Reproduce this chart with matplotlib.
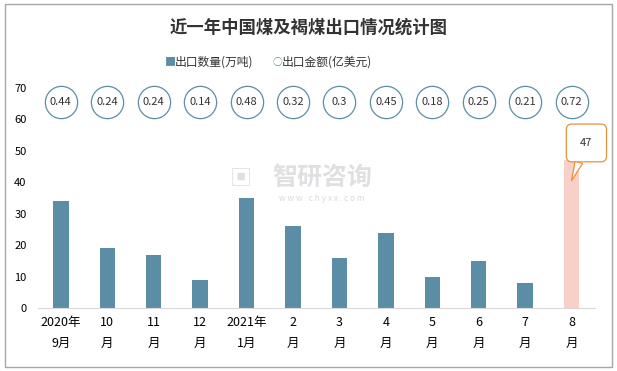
import numpy as np
import matplotlib.pyplot as plt
from matplotlib.patches import Rectangle

plt.rcParams['font.family'] = ['Noto Sans CJK SC', 'DejaVu Sans']

# data
months = ['2020年\n9月', '10\n月', '11\n月', '12\n月', '2021年\n1月', '2\n月',
          '3\n月', '4\n月', '5\n月', '6\n月', '7\n月', '8\n月']
volume = [34, 19, 17, 9, 35, 26, 16, 24, 10, 15, 8, 47]          # 万吨
amount = [0.44, 0.24, 0.24, 0.14, 0.48, 0.32, 0.3, 0.45, 0.18, 0.25, 0.21, 0.72]  # 亿美元

bar_color = '#5b8ea6'
last_color = '#f8d0c8'
circle_edge = '#5b8ea6'
orange = '#e8923a'

fig = plt.figure(figsize=(6.17, 3.71), dpi=100)
ax = fig.add_axes([0.061, 0.17, 0.903, 0.593])

x = np.arange(len(months))
colors = [bar_color] * (len(x) - 1) + [last_color]
ax.bar(x, volume, width=0.33, color=colors, zorder=2)

# amount labels in circles along the top
ax.scatter(x, [65.5] * len(x), s=540, facecolor='white', edgecolor=circle_edge,
           linewidth=0.9, zorder=3, clip_on=False)
for xi, a in zip(x, amount):
    ax.text(xi, 65.5, str(a), ha='center', va='center', fontsize=8, color='#333333', zorder=4)

# callout for the last bar
ax.annotate(str(volume[-1]), xy=(x[-1], volume[-1] - 6.5), xytext=(x[-1] + 0.32, 52.5),
            ha='center', va='center', fontsize=8, color='#333333',
            bbox=dict(boxstyle='round,pad=1.25,rounding_size=0.5', fc='white', ec=orange, lw=0.9),
            arrowprops=dict(arrowstyle='wedge,tail_width=0.7', fc='white', ec=orange, lw=0.9,
                            shrinkA=0, shrinkB=0),
            annotation_clip=False, zorder=5)

ax.set_xlim(-0.5, 11.5)
ax.set_ylim(0, 70)
ax.set_yticks(range(0, 71, 10))
ax.set_xticks(x)
ax.set_xticklabels(months, fontsize=9, linespacing=1.75)
ax.tick_params(axis='y', labelsize=8, length=0, pad=8)
ax.tick_params(axis='x', length=0, pad=6)
for s in ['top', 'right', 'left']:
    ax.spines[s].set_visible(False)
ax.spines['bottom'].set_color('#d9d9d9')

# legend
fig.text(0.268, 0.833, '■', color=bar_color, fontsize=8, ha='left', va='center')
fig.text(0.284, 0.833, '出口数量(万吨)', fontsize=8.5, ha='left', va='center', color='#333333')
fig.text(0.442, 0.833, '○', color=circle_edge, fontsize=7, ha='left', va='center')
fig.text(0.457, 0.833, '出口金额(亿美元)', fontsize=8.5, ha='left', va='center', color='#333333')

fig.text(0.5, 0.925, '近一年中国煤及褐煤出口情况统计图', fontsize=12.5, fontweight='bold',
         ha='center', va='center', color='#333333')

# watermark
fig.text(0.522, 0.52, '智研咨询', fontsize=18, color='#c8ccd0', alpha=0.6,
         ha='center', va='center', fontweight='bold')
fig.text(0.522, 0.466, 'w w w . c h y x x . c o m', fontsize=6, color='#c8ccd0', alpha=0.7,
         ha='center', va='center')
fig.text(0.39, 0.52, '▣', fontsize=16, color='#c8ccd0', alpha=0.6, ha='center', va='center')

fig.add_artist(Rectangle((0.008, 0.012), 0.984, 0.976, transform=fig.transFigure,
                         fill=False, ec='#a6a6a6', lw=1))

plt.savefig('out.png', dpi=100)
plt.close()
